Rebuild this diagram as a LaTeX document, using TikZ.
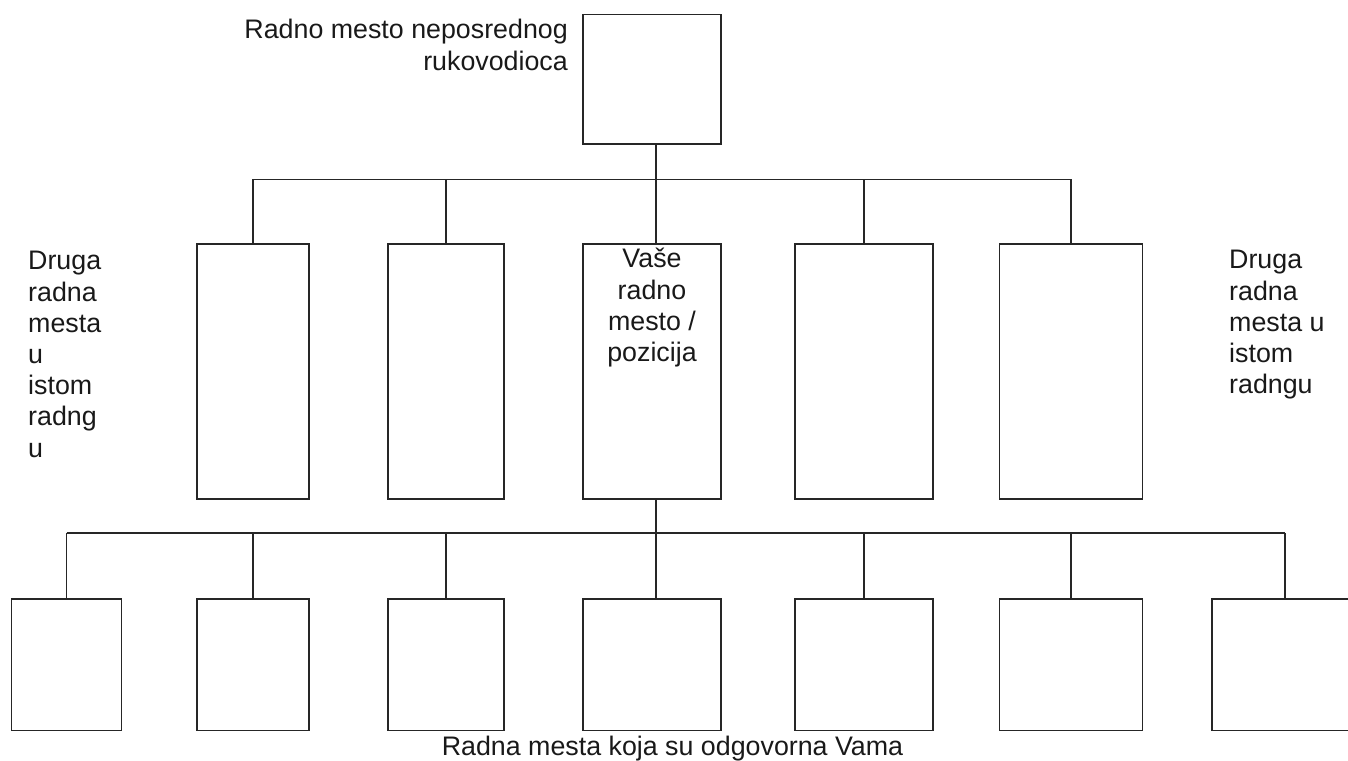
\documentclass[tikz,border=0pt]{standalone}
\usepackage{fontspec}
\setmainfont{Liberation Sans}
\newcommand\mylines[2]{\begin{tabular}[t]{@{}#1@{}}#2\end{tabular}}
\begin{document}
\begin{tikzpicture}[x=1pt,y=1pt,
  box/.style={draw=black!85, line width=1.2pt, inner sep=0pt, rectangle},
  conn/.style={draw=black!85, line width=1.2pt},
  lbl/.style={inner sep=0pt, font=\fontsize{26.8}{31.2}\selectfont, text=black!90}]
\clip (0,0) rectangle (1348,760);
\useasboundingbox (0,0) rectangle (1348,760);
% top box
\node[box, minimum width=138pt, minimum height=129.5pt] (T) at (652,680.75) {};
% middle row
\node[box, minimum width=112pt, minimum height=255pt] (B1) at (253,388.5) {};
\node[box, minimum width=116pt, minimum height=255pt] (B2) at (446,388.5) {};
\node[box, minimum width=138pt, minimum height=255pt] (B3) at (652,388.5) {};
\node[box, minimum width=138pt, minimum height=255pt] (B4) at (864,388.5) {};
\node[box, minimum width=143pt, minimum height=255pt] (B5) at (1071,388.5) {};
% bottom row
\node[box, minimum width=110pt, minimum height=131.5pt] (C1) at (66.6,95.25) {};
\node[box, minimum width=112pt, minimum height=131.5pt] (C2) at (253,95.25) {};
\node[box, minimum width=116pt, minimum height=131.5pt] (C3) at (446,95.25) {};
\node[box, minimum width=138pt, minimum height=131.5pt] (C4) at (652,95.25) {};
\node[box, minimum width=138pt, minimum height=131.5pt] (C5) at (864,95.25) {};
\node[box, minimum width=143pt, minimum height=131.5pt] (C6) at (1071,95.25) {};
\node[box, minimum width=146pt, minimum height=131.5pt] (C7) at (1285,95.25) {};
% buses
\coordinate (bus1) at (656,580.5);
\coordinate (bus2) at (656,227);
\draw[conn] (T.south -| bus1) -- (bus1);
\draw[conn] (B1.north |- bus1) -- (B5.north |- bus1);
\foreach \n in {B1,B2,B4,B5} \draw[conn] (\n.north |- bus1) -- (\n.north);
\draw[conn] (bus1) -- (B3.north -| bus1);
\draw[conn] (B3.south -| bus2) -- (bus2);
\draw[conn] (C1.north |- bus2) -- (C7.north |- bus2);
\foreach \n in {C1,C2,C3,C5,C6,C7} \draw[conn] (\n.north |- bus2) -- (\n.north);
\draw[conn] (bus2) -- (C4.north -| bus2);
% labels
\node[lbl, anchor=base east] (tlab) at (568,721) {\mylines{r}{Radno mesto neposrednog\\rukovodioca}};
\node[lbl, anchor=base west] (llab) at (28,490) {\mylines{l}{Druga\\radna\\mesta\\u\\istom\\radng\\u}};
\node[lbl, anchor=base west] (rlab) at (1229,491) {\mylines{l}{Druga\\radna\\mesta u\\istom\\radngu}};
\node[lbl, anchor=base] (b3lab) at (652,492) {\mylines{c}{Vaše\\radno\\mesto /\\pozicija}};
\node[lbl, anchor=base] (blab) at (672.5,5) {Radna mesta koja su odgovorna Vama};
\end{tikzpicture}
\end{document}
